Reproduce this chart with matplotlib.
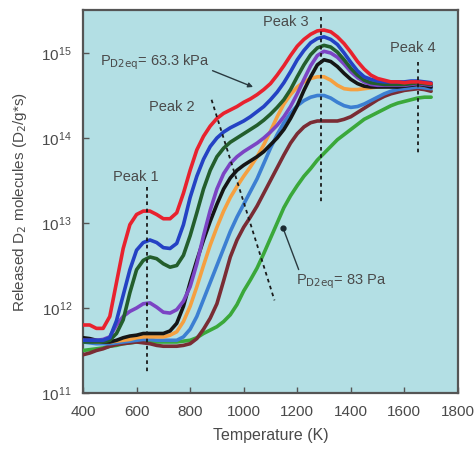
"""Released D2 molecules vs temperature (TDS spectra at several D2 pressures)."""
import matplotlib

matplotlib.use("Agg")
import matplotlib.pyplot as plt
import numpy as np

plt.rcParams["font.family"] = ["Liberation Sans", "DejaVu Sans"]

# temperature grid (K), 25 K steps
TEMP = list(range(400, 1701, 25))

# log10 of release rate (D2/g*s), highest pressure first
LOG_RED = [11.80, 11.80, 11.76, 11.76, 11.90, 12.30, 12.70, 12.98, 13.10, 13.14, 13.14, 13.10, 13.05, 13.05,
           13.12, 13.35, 13.62, 13.86, 14.02, 14.14, 14.23, 14.29, 14.33, 14.37, 14.42, 14.46, 14.51, 14.57,
           14.64, 14.74, 14.85, 14.97, 15.08, 15.16, 15.22, 15.26, 15.27, 15.25, 15.19, 15.11, 15.01, 14.90,
           14.81, 14.74, 14.70, 14.68, 14.66, 14.66, 14.65, 14.66, 14.66, 14.65, 14.64]
LOG_BLUE = [11.62, 11.62, 11.62, 11.62, 11.65, 11.85, 12.15, 12.45, 12.68, 12.77, 12.80, 12.77, 12.71, 12.70,
            12.76, 12.98, 13.30, 13.55, 13.75, 13.90, 14.00, 14.07, 14.12, 14.16, 14.20, 14.25, 14.31, 14.37,
            14.45, 14.54, 14.65, 14.78, 14.92, 15.03, 15.12, 15.17, 15.19, 15.16, 15.10, 15.00, 14.89, 14.79,
            14.72, 14.69, 14.67, 14.66, 14.66, 14.66, 14.66, 14.67, 14.67, 14.66, 14.65]
LOG_DKGREEN = [11.60, 11.60, 11.60, 11.60, 11.62, 11.70, 11.86, 12.18, 12.45, 12.56, 12.60, 12.58, 12.52, 12.48,
               12.50, 12.62, 12.85, 13.12, 13.40, 13.62, 13.78, 13.88, 13.95, 14.00, 14.05, 14.10, 14.15, 14.21,
               14.28, 14.36, 14.45, 14.57, 14.72, 14.86, 14.98, 15.06, 15.09, 15.07, 15.01, 14.92, 14.82, 14.74,
               14.68, 14.65, 14.64, 14.63, 14.63, 14.63, 14.63, 14.64, 14.65, 14.64, 14.63]
LOG_PURPLE = [11.62, 11.62, 11.62, 11.63, 11.66, 11.80, 11.90, 11.96, 12.00, 12.05, 12.06, 12.01, 11.95, 11.94,
              11.98, 12.08, 12.25, 12.52, 12.85, 13.15, 13.40, 13.58, 13.70, 13.78, 13.84, 13.89, 13.94, 14.00,
              14.07, 14.15, 14.25, 14.37, 14.52, 14.69, 14.85, 14.97, 15.02, 15.00, 14.95, 14.87, 14.78, 14.71,
              14.66, 14.63, 14.62, 14.62, 14.62, 14.62, 14.62, 14.63, 14.64, 14.63, 14.62]
LOG_BLACK = [11.65, 11.64, 11.62, 11.60, 11.60, 11.62, 11.65, 11.67, 11.68, 11.70, 11.70, 11.70, 11.70, 11.73,
             11.82, 12.02, 12.30, 12.56, 12.80, 13.02, 13.22, 13.40, 13.53, 13.62, 13.68, 13.73, 13.78, 13.84,
             13.92, 14.00, 14.10, 14.23, 14.38, 14.56, 14.72, 14.86, 14.92, 14.90, 14.84, 14.76, 14.69, 14.64,
             14.61, 14.60, 14.60, 14.60, 14.60, 14.60, 14.61, 14.62, 14.63, 14.62, 14.60]
LOG_ORANGE = [11.62, 11.61, 11.60, 11.60, 11.60, 11.61, 11.62, 11.63, 11.65, 11.66, 11.66, 11.66, 11.66, 11.68,
              11.72, 11.84, 12.02, 12.25, 12.50, 12.74, 12.95, 13.14, 13.30, 13.43, 13.55, 13.66, 13.78, 13.92,
              14.08, 14.25, 14.40, 14.51, 14.60, 14.66, 14.70, 14.72, 14.72, 14.68, 14.62, 14.58, 14.57, 14.57,
              14.58, 14.59, 14.60, 14.61, 14.61, 14.62, 14.62, 14.63, 14.63, 14.62, 14.61]
LOG_STEEL = [11.60, 11.59, 11.58, 11.58, 11.58, 11.59, 11.60, 11.61, 11.62, 11.63, 11.63, 11.62, 11.62, 11.62,
             11.62, 11.66, 11.75, 11.90, 12.10, 12.30, 12.50, 12.70, 12.90, 13.07, 13.22, 13.37, 13.52, 13.70,
             13.88, 14.04, 14.18, 14.29, 14.38, 14.44, 14.48, 14.50, 14.50, 14.47, 14.42, 14.38, 14.36, 14.37,
             14.40, 14.44, 14.48, 14.52, 14.55, 14.57, 14.58, 14.59, 14.60, 14.59, 14.58]
LOG_BROWN = [11.45, 11.47, 11.50, 11.52, 11.55, 11.57, 11.58, 11.59, 11.60, 11.59, 11.58, 11.56, 11.55, 11.55,
             11.55, 11.56, 11.58, 11.64, 11.75, 11.88, 12.05, 12.32, 12.60, 12.80, 12.95, 13.07, 13.20, 13.35,
             13.50, 13.65, 13.80, 13.94, 14.05, 14.13, 14.18, 14.20, 14.20, 14.20, 14.20, 14.22, 14.25, 14.30,
             14.35, 14.40, 14.45, 14.49, 14.52, 14.54, 14.56, 14.57, 14.58, 14.57, 14.55]
LOG_GREEN = [11.50, 11.51, 11.52, 11.53, 11.55, 11.56, 11.58, 11.59, 11.60, 11.60, 11.60, 11.60, 11.60, 11.60,
             11.60, 11.61, 11.62, 11.65, 11.70, 11.74, 11.78, 11.84, 11.92, 12.04, 12.20, 12.33, 12.47, 12.64,
             12.82, 13.00, 13.18, 13.32, 13.44, 13.55, 13.64, 13.74, 13.82, 13.90, 13.98, 14.04, 14.10, 14.16,
             14.22, 14.26, 14.30, 14.34, 14.38, 14.41, 14.43, 14.45, 14.47, 14.48, 14.48]

SERIES = [LOG_GREEN, LOG_BROWN, LOG_STEEL, LOG_ORANGE, LOG_BLACK, LOG_PURPLE, LOG_DKGREEN, LOG_BLUE, LOG_RED]
COLORS = ["#3aa83a", "#7a2c34", "#3c7fd2", "#f5a040", "#151515", "#7b44c4", "#235e2c", "#2442c4", "#e8222e"]

# peak guide lines: (T0, log0, T1, log1)
PEAK_LINES = [(640, 13.42, 640, 11.24), (880, 14.45, 1115, 12.09),
              (1290, 15.42, 1290, 13.24), (1650, 14.89, 1650, 13.80)]
PEAK_LABELS = ["Peak 1", "Peak 2", "Peak 3", "Peak 4"]
PEAK_LABEL_POS = [(598, 13.54), (732, 14.36), (1157, 15.36), (1633, 15.06)]

BG = "#b3dfe4"
TXT = "#4a4a4a"

fig = plt.figure(figsize=(4.76, 4.5), dpi=100)
ax = fig.add_axes([0.1744, 0.1267, 0.7876, 0.8511])
ax.set_facecolor(BG)

t = np.array(TEMP)
for vals, c in zip(SERIES, COLORS):
    ax.plot(t, 10 ** np.array(vals), color=c, lw=2.6, solid_joinstyle="round",
            solid_capstyle="round", zorder=3)

for (x0, l0, x1, l1) in PEAK_LINES:
    ax.plot([x0, x1], [10 ** l0, 10 ** l1], color="#1a1a1a", lw=1.3,
            linestyle=(0, (2.0, 2.0)), zorder=4)
for lab, (x, l) in zip(PEAK_LABELS, PEAK_LABEL_POS):
    ax.text(x, 10 ** l, lab, ha="center", va="center", fontsize=10.5, color=TXT, zorder=5)

ax.annotate(r"P$_{\rm D2eq}$= 63.3 kPa", xy=(1035, 10 ** 14.6), xytext=(463, 10 ** 14.89),
            ha="left", va="center", fontsize=10.5, color=TXT, zorder=5,
            arrowprops=dict(arrowstyle="-|>", color="#2a3a40", lw=1.0, mutation_scale=7,
                            shrinkA=0, shrinkB=0, relpos=(0.97, 0.2)))
ax.annotate(r"P$_{\rm D2eq}$= 83 Pa", xy=(1147, 10 ** 12.94), xytext=(1195, 10 ** 12.31),
            ha="left", va="center", fontsize=10.5, color=TXT, zorder=5,
            arrowprops=dict(arrowstyle="-", color="#2a3a40", lw=1.0,
                            shrinkA=0, shrinkB=0, relpos=(0.05, 0.9)))
ax.plot([1147], [10 ** 12.94], "o", color="#1a2a30", ms=3.5, zorder=5)

ax.set_yscale("log")
ax.set_xlim(400, 1800)
ax.set_ylim(1e11, 10 ** 15.506)
ax.set_xticks([400, 600, 800, 1000, 1200, 1400, 1600, 1800])
ax.set_yticks([1e11, 1e12, 1e13, 1e14, 1e15])
ax.yaxis.set_minor_locator(matplotlib.ticker.NullLocator())
ax.tick_params(direction="in", length=4, width=1.0, colors="#555555", labelsize=11,
               labelcolor=TXT)
ax.tick_params(axis="x", pad=9)
ax.tick_params(axis="y", pad=8)
for s in ax.spines.values():
    s.set_color("#555555")
    s.set_linewidth(1.6)

ax.set_xlabel("Temperature (K)", fontsize=11.5, color=TXT, labelpad=6)
ax.set_ylabel(r"Released D$_2$ molecules (D$_2$/g*s)", fontsize=11, color=TXT, labelpad=9)

fig.savefig("out.png", dpi=100)
